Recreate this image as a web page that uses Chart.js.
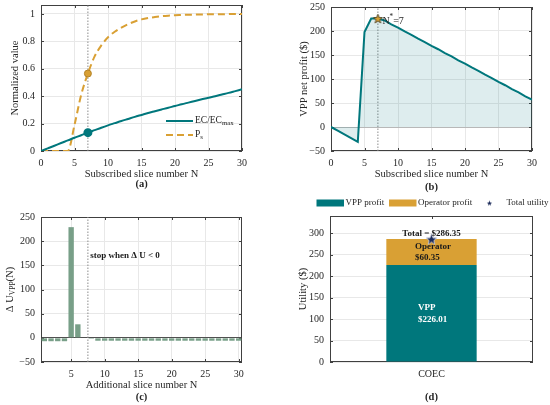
<!DOCTYPE html>
<html>
<head>
<meta charset="utf-8">
<title>Slice subscription results</title>
<script src="https://cdn.jsdelivr.net/npm/chart.js@4.4.1/dist/chart.umd.min.js"></script>
<style>
  html, body { margin: 0; padding: 0; background: #fff; }
  #fig { position: relative; width: 550px; height: 405px; overflow: hidden; }
  .panel { position: absolute; }
</style>
</head>
<body>
<div id="fig">
  <div class="panel" style="left:0;top:0;width:275px;height:200px"><canvas id="chartA"></canvas></div>
  <div class="panel" style="left:275px;top:0;width:275px;height:195px"><canvas id="chartB"></canvas></div>
  <div class="panel" style="left:0;top:200px;width:275px;height:205px"><canvas id="chartC"></canvas></div>
  <div class="panel" style="left:275px;top:195px;width:275px;height:210px"><canvas id="chartD"></canvas></div>
</div>
<script>
// ---- data ----
// (a), (b): subscribed slice number N
const sliceN = [0, 1, 2, 3, 4, 5, 6, 7, 8, 9, 10, 11, 12, 13, 14, 15, 16, 17, 18, 19, 20, 21, 22, 23, 24, 25, 26, 27, 28, 29, 30];
const ecRatio = [0, 0.019, 0.038, 0.058, 0.077, 0.097, 0.115, 0.134, 0.152, 0.17, 0.187, 0.203, 0.219, 0.234, 0.249, 0.263,
  0.277, 0.29, 0.303, 0.316, 0.328, 0.341, 0.353, 0.365, 0.377, 0.389, 0.4, 0.412, 0.424, 0.437, 0.45];
const psValues = [0, 0, 0, 0, 0, 0.19, 0.41, 0.565, 0.69, 0.77, 0.83, 0.87, 0.9, 0.925, 0.945, 0.96,
  0.97, 0.977, 0.983, 0.987, 0.99, 0.992, 0.994, 0.995, 0.996, 0.997, 0.998, 0.998, 0.999, 0.999, 1.0];
const vppProfit = [0, -7.7, -15.5, -23.2, -31, 198, 226, 226, 222, 214, 207, 199, 192, 184, 177, 169,
  162, 154, 147, 139, 132, 124, 117, 109, 102, 94, 87, 79, 72, 64, 57];
const optN = 7;

// (c): additional slice number N
const addN = [1, 2, 3, 4, 5, 6, 7, 8, 9, 10, 11, 12, 13, 14, 15, 16, 17, 18, 19, 20, 21, 22, 23, 24, 25, 26, 27, 28, 29, 30];
const deltaU = [-7, -7, -7, -7, 229, 28, 0, -2, -6, -6, -6, -6, -6, -6, -6, -6,
  -6, -6, -6, -6, -6, -6, -6, -6, -6, -6, -6, -6, -6, -6];
const stopN = 7.5;

// (d): utility split
const schemes = ['COEC'];
const vppShare = [226.01];
const operatorShare = [60.35];
const totalUtility = [286.35];

// axes
const nTicks = [0, 5, 10, 15, 20, 25, 30];
const addTicks = [5, 10, 15, 20, 25, 30];
const normTicks = [0, 0.2, 0.4, 0.6, 0.8, 1];
const profitTicks = [-50, 0, 50, 100, 150, 200, 250];
const utilityTicks = [0, 50, 100, 150, 200, 250, 300];
const nRange = [0, 30];
const addRange = [0.5, 30.5];
const normRange = [0, 1.065];
const profitRange = [-50, 250];
const utilityRange = [0, 340];

// ---- look ----
const FONT = "'Liberation Serif', 'Times New Roman', Times, serif";
const INK = '#262626';
const TEAL = '#00777c';
const GOLD = '#d9a034';
const SAGE = '#789f88';
const NAVY = '#1c2b5a';
const GRID = '#e8e8e8';
const GUIDE = '#8c8c8c';

Chart.defaults.font.family = FONT;
Chart.defaults.font.size = 10;
Chart.defaults.color = INK;
Chart.defaults.animation = false;
Chart.defaults.maintainAspectRatio = false;
Chart.defaults.events = [];
Chart.defaults.plugins.legend.display = false;
Chart.defaults.plugins.tooltip.enabled = false;

// fix axis sizes so each plot box sits where the figure has it
function pinSize(w, h) {
  return s => {
    if (w !== null) s.width = w;
    if (h !== null) s.height = h;
    s.paddingLeft = s.paddingRight = s.paddingTop = s.paddingBottom = 0;
  };
}
function useTicks(list) {
  return s => { s.ticks = list.map(v => ({ value: v })); };
}
function num(v) {
  const t = String(+Number(v).toFixed(2));
  return v < 0 ? '\u2212' + t.slice(1) : t;
}
function linAxis(range, ticks, fit, gridColor) {
  return {
    type: 'linear', min: range[0], max: range[1], offset: false,
    afterBuildTicks: useTicks(ticks), afterFit: fit,
    ticks: { padding: 6, callback: num, maxRotation: 0, autoSkip: false },
    grid: { color: gridColor || GRID, drawTicks: false, offset: false },
    border: { display: false }
  };
}
function zeroGrid(zeroColor) {
  return ctx => (ctx.tick && ctx.tick.value === 0 ? zeroColor : GRID);
}

function starImage(size, fill, edge) {
  const c = document.createElement('canvas');
  c.width = c.height = size;
  const g = c.getContext('2d');
  const r = size / 2 - 0.7, ri = r * 0.42;
  g.beginPath();
  for (let k = 0; k < 10; k++) {
    const rr = k % 2 ? ri : r;
    const ang = -Math.PI / 2 + k * Math.PI / 5;
    g.lineTo(size / 2 + rr * Math.cos(ang), size / 2 + rr * Math.sin(ang) + size * 0.05);
  }
  g.closePath();
  g.fillStyle = fill;
  g.fill();
  if (edge) { g.strokeStyle = edge; g.lineWidth = 0.8; g.stroke(); }
  return c;
}
const starB = starImage(11, GOLD, '#3f3515');
const starD = starImage(13, NAVY, '#c8cde0');
const starKey = starImage(7, NAVY, null);

// text with sub/superscripts: parts = [[text, 'sub'|'sup'], ...]
function rich(ctx, parts, x, y, size, align, weight) {
  const fontOf = p => (weight ? weight + ' ' : '') + (p[1] ? size * 0.72 : size) + 'px ' + FONT;
  let w = 0;
  parts.forEach(p => { ctx.font = fontOf(p); w += ctx.measureText(p[0]).width; });
  let cx = align === 'center' ? x - w / 2 : align === 'right' ? x - w : x;
  ctx.textAlign = 'left';
  ctx.textBaseline = 'middle';
  parts.forEach(p => {
    ctx.font = fontOf(p);
    const dy = p[1] === 'sub' ? size * 0.33 : p[1] === 'sup' ? -size * 0.35 : 0;
    ctx.fillText(p[0], cx, y + dy);
    cx += ctx.measureText(p[0]).width;
  });
}

// MATLAB-like box with inward ticks on all four sides
function frame(chart) {
  const { ctx, chartArea: a, scales } = chart;
  const tl = 3;
  ctx.save();
  ctx.strokeStyle = '#404040';
  ctx.lineWidth = 1;
  ctx.beginPath();
  scales.x.ticks.forEach((t, i) => {
    const px = Math.round(scales.x.getPixelForTick(i)) + 0.5;
    ctx.moveTo(px, a.bottom); ctx.lineTo(px, a.bottom - tl);
    ctx.moveTo(px, a.top); ctx.lineTo(px, a.top + tl);
  });
  scales.y.ticks.forEach((t, i) => {
    const py = Math.round(scales.y.getPixelForTick(i)) + 0.5;
    ctx.moveTo(a.left, py); ctx.lineTo(a.left + tl, py);
    ctx.moveTo(a.right, py); ctx.lineTo(a.right - tl, py);
  });
  ctx.stroke();
  ctx.strokeRect(Math.round(a.left) + 0.5, Math.round(a.top) + 0.5,
    Math.round(a.right - a.left) - 1, Math.round(a.bottom - a.top) - 1);
  ctx.restore();
}

function titles(chart, spec) {
  const { ctx, chartArea: a } = chart;
  const cx = (a.left + a.right) / 2, cy = (a.top + a.bottom) / 2;
  ctx.save();
  ctx.fillStyle = INK;
  if (spec.x) rich(ctx, spec.x, cx, a.bottom + spec.xOff, 10.5, 'center');
  rich(ctx, [[spec.letter]], cx, a.bottom + spec.letterOff, 10.5, 'center', 'bold');
  ctx.translate(a.left - spec.yOff, cy);
  ctx.rotate(-Math.PI / 2);
  rich(ctx, spec.y, 0, 0, 10.5, 'center');
  ctx.restore();
}

// box goes under the marks, texts go on top
function decor(id, draw) {
  return {
    id: id,
    beforeDatasetsDraw(chart) { frame(chart); },
    afterDraw(chart) { draw(chart); }
  };
}

function guide(x, range) {
  return {
    type: 'line', data: [{ x: x, y: range[0] }, { x: x, y: range[1] }],
    borderColor: GUIDE, borderWidth: 1, borderDash: [1.5, 1.5], pointRadius: 0, order: 9
  };
}
const atOpt = size => c => (sliceN[c.dataIndex] === optN ? size : 0);

// ---- (a) ----
new Chart(document.getElementById('chartA'), {
  type: 'line',
  data: {
    datasets: [
      {
        label: 'EC/ECmax', data: sliceN.map((n, i) => ({ x: n, y: ecRatio[i] })),
        borderColor: TEAL, borderWidth: 2, cubicInterpolationMode: 'monotone',
        pointRadius: atOpt(3.5), pointBackgroundColor: TEAL, pointBorderColor: TEAL, order: 1
      },
      {
        label: 'Ps', data: sliceN.map((n, i) => ({ x: n, y: psValues[i] })),
        borderColor: GOLD, borderWidth: 2, borderDash: [7, 4], cubicInterpolationMode: 'monotone',
        pointRadius: atOpt(3.5), pointBackgroundColor: GOLD, pointBorderColor: '#b38226', pointBorderWidth: 1, order: 1
      },
      guide(optN, normRange)
    ]
  },
  options: {
    layout: { padding: { top: 5, right: 33 } },
    scales: {
      x: linAxis(nRange, nTicks, pinSize(null, 49)),
      y: linAxis(normRange, normTicks, pinSize(41, null))
    }
  },
  plugins: [decor('panelA', chart => {
    const { ctx, chartArea: a } = chart;
    titles(chart, { x: [['Subscribed slice number N']], xOff: 23, y: [['Normalized value']], yOff: 26, letter: '(a)', letterOff: 33 });
    const ds = chart.data.datasets;
    const lx = a.right - 76, tx = a.right - 47;
    ctx.save();
    ctx.lineWidth = 2;
    ctx.strokeStyle = ds[0].borderColor;
    ctx.beginPath(); ctx.moveTo(lx, a.top + 116); ctx.lineTo(lx + 27, a.top + 116); ctx.stroke();
    ctx.strokeStyle = ds[1].borderColor;
    ctx.setLineDash(ds[1].borderDash);
    ctx.beginPath(); ctx.moveTo(lx, a.top + 130); ctx.lineTo(lx + 27, a.top + 130); ctx.stroke();
    ctx.fillStyle = INK;
    rich(ctx, [['EC/EC'], ['max', 'sub']], tx, a.top + 115, 9.5, 'left');
    rich(ctx, [['P'], ['s', 'sub']], tx, a.top + 129, 9.5, 'left');
    ctx.restore();
  })]
});

// ---- (b) ----
new Chart(document.getElementById('chartB'), {
  type: 'line',
  data: {
    datasets: [
      {
        label: 'VPP net profit', data: sliceN.map((n, i) => ({ x: n, y: vppProfit[i] })),
        borderColor: TEAL, borderWidth: 2, tension: 0, pointRadius: 0,
        fill: 'origin', backgroundColor: 'rgba(0,119,124,0.13)', order: 2
      },
      {
        label: 'optimum', data: [{ x: optN, y: vppProfit[sliceN.indexOf(optN)] }],
        showLine: false, pointStyle: starB, pointRadius: 5, order: 0
      },
      guide(optN, profitRange)
    ]
  },
  options: {
    layout: { padding: { top: 7, right: 18 } },
    scales: {
      x: linAxis(nRange, nTicks, pinSize(null, 44)),
      y: linAxis(profitRange, profitTicks, pinSize(56, null), zeroGrid('#b8b8b8'))
    }
  },
  plugins: [decor('panelB', chart => {
    const { ctx, scales } = chart;
    titles(chart, { x: [['Subscribed slice number N']], xOff: 23, y: [['VPP net profit ($)']], yOff: 27, letter: '(b)', letterOff: 36 });
    const px = scales.x.getPixelForValue(optN);
    const py = scales.y.getPixelForValue(vppProfit[sliceN.indexOf(optN)]);
    ctx.save();
    ctx.fillStyle = INK;
    rich(ctx, [['N'], ['*', 'sup'], ['=' + optN]], px + 4.5, py + 2.5, 10, 'left');
    ctx.restore();
  })]
});

// ---- (c) ----
new Chart(document.getElementById('chartC'), {
  type: 'bar',
  data: {
    datasets: [
      {
        label: 'delta U', data: addN.map((n, i) => ({ x: n, y: deltaU[i] })),
        backgroundColor: SAGE, barPercentage: 0.8, categoryPercentage: 1, order: 1
      },
      guide(stopN, profitRange)
    ]
  },
  options: {
    layout: { padding: { top: 17, right: 33 } },
    scales: {
      x: linAxis(addRange, addTicks, pinSize(null, 43)),
      y: linAxis(profitRange, profitTicks, pinSize(41, null), zeroGrid('#505050'))
    }
  },
  plugins: [decor('panelC', chart => {
    const { ctx, scales } = chart;
    titles(chart, { x: [['Additional slice number N']], xOff: 23, y: [['\u0394 U'], ['VPP', 'sub'], ['(N)']], yOff: 31, letter: '(c)', letterOff: 35 });
    ctx.save();
    ctx.fillStyle = '#1a1a1a';
    rich(ctx, [['stop when \u0394 U < 0']], scales.x.getPixelForValue(stopN + 0.35), scales.y.getPixelForValue(170), 9, 'left', 'bold');
    ctx.restore();
  })]
});

// ---- (d) ----
new Chart(document.getElementById('chartD'), {
  type: 'bar',
  data: {
    labels: schemes,
    datasets: [
      { label: 'VPP profit', data: vppShare, backgroundColor: TEAL, barPercentage: 0.445, categoryPercentage: 1, stack: 'u', order: 2 },
      { label: 'Operator profit', data: operatorShare, backgroundColor: GOLD, barPercentage: 0.445, categoryPercentage: 1, stack: 'u', order: 2 },
      { type: 'line', label: 'Total utility', data: totalUtility, showLine: false, pointStyle: starD, pointRadius: 6, stack: 'total', order: 0 }
    ]
  },
  options: {
    layout: { padding: { top: 21, right: 17 } },
    scales: {
      x: {
        stacked: true, afterFit: pinSize(null, 43),
        ticks: { padding: 6 }, grid: { display: false, drawTicks: false }, border: { display: false }
      },
      y: Object.assign(linAxis(utilityRange, utilityTicks, pinSize(55, null)), { stacked: true })
    }
  },
  plugins: [decor('panelD', chart => {
    const { ctx, scales, chartArea: a } = chart;
    titles(chart, { y: [['Utility ($)']], yOff: 27, letter: '(d)', letterOff: 35 });
    const ds = chart.data.datasets;
    const cx = scales.x.getPixelForValue(0);
    const y = v => scales.y.getPixelForValue(v);
    ctx.save();
    ctx.fillStyle = '#1a1a1a';
    rich(ctx, [['Total = $' + totalUtility[0].toFixed(2)]], cx, y(totalUtility[0]) - 5, 9, 'center', 'bold');
    const opMid = y(vppShare[0] + operatorShare[0] / 2);
    rich(ctx, [['Operator']], cx - 16.5, opMid - 5.5, 9, 'left', 'bold');
    rich(ctx, [['$' + operatorShare[0].toFixed(2)]], cx - 16.5, opMid + 6, 9, 'left', 'bold');
    ctx.fillStyle = '#ffffff';
    const vpMid = y(vppShare[0] / 2);
    rich(ctx, [['VPP']], cx - 13.5, vpMid - 6, 9, 'left', 'bold');
    rich(ctx, [['$' + vppShare[0].toFixed(2)]], cx - 13.5, vpMid + 6, 9, 'left', 'bold');

    // legend row above the axes
    const ly = a.top - 13;
    ctx.fillStyle = ds[0].backgroundColor;
    ctx.fillRect(a.left - 13.5, ly - 3.5, 27.5, 7);
    ctx.fillStyle = ds[1].backgroundColor;
    ctx.fillRect(a.left + 59, ly - 3.5, 27.5, 7);
    ctx.drawImage(starKey, a.left + 156, ly - 3.5);
    ctx.fillStyle = INK;
    rich(ctx, [[ds[0].label]], a.left + 15.5, ly, 9, 'left');
    rich(ctx, [[ds[1].label]], a.left + 88, ly, 9, 'left');
    rich(ctx, [[ds[2].label]], a.left + 176.5, ly, 9, 'left');
    ctx.restore();
  })]
});
</script>
</body>
</html>
